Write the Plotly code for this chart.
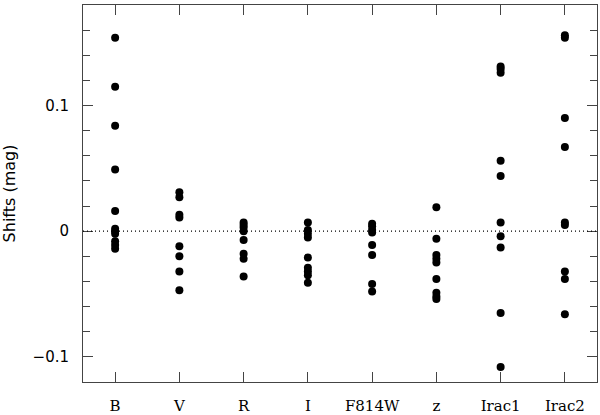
import plotly.graph_objects as go

# photometric bands (x categories)
bands = ["B", "V", "R", "I", "F814W", "z", "Irac1", "Irac2"]

# shift values (mag) per band
shifts_B = [0.154, 0.115, 0.084, 0.049, 0.016, 0.002, 0.0, -0.002, -0.008, -0.011, -0.014]
shifts_V = [0.031, 0.027, 0.013, 0.011, -0.012, -0.020, -0.032, -0.047]
shifts_R = [0.007, 0.005, 0.003, 0.000, -0.007, -0.018, -0.022, -0.036]
shifts_I = [0.007, 0.001, -0.002, -0.005, -0.021, -0.029, -0.032, -0.035, -0.041]
shifts_F814W = [0.006, 0.004, 0.001, -0.001, -0.011, -0.019, -0.042, -0.048]
shifts_z = [0.019, -0.006, -0.019, -0.022, -0.025, -0.038, -0.049, -0.052, -0.054]
shifts_Irac1 = [0.131, 0.129, 0.126, 0.056, 0.044, 0.007, -0.004, -0.013, -0.065, -0.108]
shifts_Irac2 = [0.156, 0.154, 0.090, 0.067, 0.007, 0.005, -0.032, -0.038, -0.066]

all_shifts = [shifts_B, shifts_V, shifts_R, shifts_I,
              shifts_F814W, shifts_z, shifts_Irac1, shifts_Irac2]

axis_col = "#444444"

fig = go.Figure()

for i, vals in enumerate(all_shifts):
    fig.add_trace(go.Scatter(
        x=[i + 1] * len(vals), y=vals,
        mode="markers",
        marker=dict(color="black", size=8),
        showlegend=False,
    ))

fig.add_hline(y=0, line=dict(color="black", width=1.3, dash="1px,3px"))

fig.update_layout(
    width=600, height=415,
    margin=dict(l=83, r=3, t=5, b=33),
    paper_bgcolor="white",
    plot_bgcolor="white",
)

fig.update_xaxes(
    range=[0.5, 8.5],
    tickvals=list(range(1, len(bands) + 1)),
    ticktext=bands,
    ticks="inside", ticklen=10, tickwidth=1, tickcolor=axis_col,
    showline=True, linecolor=axis_col, linewidth=1, mirror="ticks",
    showgrid=False, zeroline=False, automargin=False,
    ticklabelstandoff=10,
    tickfont=dict(family="DejaVu Serif", size=15, color="black"),
)

fig.update_yaxes(
    range=[-0.12, 0.18],
    tickvals=[-0.1, 0, 0.1],
    ticktext=["\u22120.1", "0", "0.1"],
    ticks="inside", ticklen=10, tickwidth=1, tickcolor=axis_col,
    minor=dict(tickvals=[-0.12, -0.08, -0.06, -0.04, -0.02, 0.02, 0.04,
                         0.06, 0.08, 0.12, 0.14, 0.16, 0.18],
               ticks="inside", ticklen=7, tickcolor=axis_col, showgrid=False),
    showline=True, linecolor=axis_col, linewidth=1, mirror="ticks",
    showgrid=False, zeroline=False, automargin=False,
    ticklabelstandoff=10,
    tickfont=dict(family="DejaVu Sans", size=15, color="black"),
    title=dict(text="Shifts (mag)", standoff=17,
               font=dict(family="DejaVu Sans", size=16, color="black")),
)

# page body has a default 8px margin; drop it so the figure sits at 0,0
fig.write_html("out.html", config={"displayModeBar": False},
               post_script="document.body.style.margin='0px';")
